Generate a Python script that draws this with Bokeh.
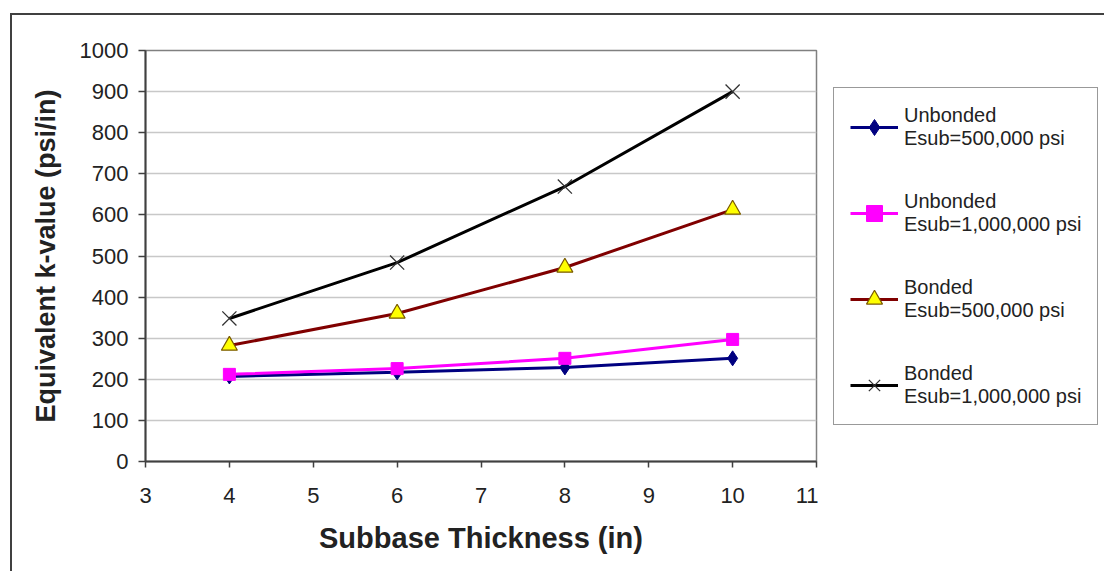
from bokeh.plotting import figure
from bokeh.layouts import row
from bokeh.models import Range1d, FixedTicker, Legend, LegendItem, InlineStyleSheet
from bokeh.embed import file_html
from bokeh.resources import INLINE

# ---- data ----
thickness = [4, 6, 8, 10]
unbonded_500k = [207, 217, 229, 251]
unbonded_1m = [212, 226, 251, 297]
bonded_500k = [282, 360, 472, 613]
bonded_1m = [348, 484, 669, 900]

x_ticks = [3, 4, 5, 6, 7, 8, 9, 10, 11]
y_ticks = [0, 100, 200, 300, 400, 500, 600, 700, 800, 900, 1000]

labels = [
    "Unbonded\nEsub=500,000 psi",
    "Unbonded\nEsub=1,000,000 psi",
    "Bonded\nEsub=500,000 psi",
    "Bonded\nEsub=1,000,000 psi",
]

FONT = "Liberation Sans"

styles = [
    dict(line_color="#000080", marker="diamond", size=15,
         fill_color="#000080", mline="#000080", mwidth=1.0),
    dict(line_color="#ff00ff", marker="square", size=12,
         fill_color="#ff00ff", mline="#ff00ff", mwidth=1.0),
    dict(line_color="#800000", marker="triangle", size=16,
         fill_color="#ffff00", mline="#7a5a00", mwidth=1.2),
    dict(line_color="#000000", marker="x", size=20,
         fill_color=None, mline="#333333", mwidth=1.3),
]
series = [unbonded_500k, unbonded_1m, bonded_500k, bonded_1m]

BORDER_TOP, BORDER_BOTTOM = 50, 110

# ---- main chart ----
p = figure(width=818, height=571, output_backend="svg", toolbar_location=None,
           x_range=Range1d(3, 11), y_range=Range1d(0, 1000),
           min_border_left=145, min_border_right=2,
           min_border_top=BORDER_TOP, min_border_bottom=BORDER_BOTTOM,
           background_fill_color="white", border_fill_color="white")

p.outline_line_color = "#808080"
p.outline_line_width = 1.5

p.xgrid.grid_line_color = None
p.ygrid.grid_line_color = "#c8c8c8"
p.ygrid.grid_line_width = 1.5

p.xaxis.ticker = FixedTicker(ticks=x_ticks)
p.yaxis.ticker = FixedTicker(ticks=y_ticks)

for ax in (p.xaxis[0], p.yaxis[0]):
    ax.axis_line_color = "#404040"
    ax.axis_line_width = 2
    ax.major_tick_line_color = "#404040"
    ax.major_tick_line_width = 1.5
    ax.major_tick_in = 0
    ax.minor_tick_line_color = None
    ax.major_label_text_font = FONT
    ax.major_label_text_font_size = "22px"
    ax.major_label_text_color = "#222222"
    ax.axis_label_text_font = FONT
    ax.axis_label_text_font_style = "bold"
    ax.axis_label_text_color = "#222222"

p.xaxis.major_tick_out = 6
p.xaxis.major_label_standoff = 20
p.xaxis.axis_label = "Subbase Thickness (in)"
p.xaxis.axis_label_text_font_size = "29px"
p.xaxis.axis_label_standoff = 16

p.yaxis.major_tick_out = 7
p.yaxis.major_label_standoff = 10
p.yaxis.axis_label = "Equivalent k-value (psi/in)"
p.yaxis.axis_label_text_font_size = "27px"
p.yaxis.axis_label_standoff = 16

for vals, st in zip(series, styles):
    p.line(thickness, vals, line_color=st["line_color"], line_width=3)
    p.scatter(thickness, vals, marker=st["marker"], size=st["size"],
              fill_color=st["fill_color"], line_color=st["mline"],
              line_width=st["mwidth"])

# ---- legend panel (separate canvas so the legend is not clipped) ----
# the proxy renderers use the same data but fall outside this canvas's
# ranges, so only the legend shows.
q = figure(width=286, height=571, output_backend="svg", toolbar_location=None,
           x_range=Range1d(-100, -99), y_range=Range1d(-100, -99),
           x_axis_location=None, y_axis_location=None,
           min_border_left=0, min_border_right=0,
           min_border_top=BORDER_TOP, min_border_bottom=BORDER_BOTTOM,
           background_fill_color="white", border_fill_color="white")
q.outline_line_color = None
q.grid.grid_line_color = None

items = []
for lab, vals, st in zip(labels, series, styles):
    lr = q.line(thickness, vals, line_color=st["line_color"], line_width=3)
    sr = q.scatter(thickness, vals, marker=st["marker"], size=st["size"],
                   fill_color=st["fill_color"], line_color=st["mline"],
                   line_width=st["mwidth"])
    items.append(LegendItem(label=lab, renderers=[lr, sr]))

legend = Legend(items=items, location="left")
legend.label_text_font = FONT
legend.label_text_font_size = "20px"
legend.label_text_color = "#222222"
legend.label_text_line_height = 1.3
legend.glyph_width = 48
legend.glyph_height = 40
legend.label_standoff = 6
legend.spacing = 40
legend.padding = 16
legend.margin = 15
legend.border_line_color = "#333333"
legend.border_line_width = 1.5
legend.background_fill_color = "white"
legend.background_fill_alpha = 1
q.add_layout(legend, "center")

layout = row(p, q, spacing=0)

# outer chart border (CSS overlay on the layout's host element)
layout.stylesheets = [InlineStyleSheet(css="""
:host { position: relative; }
:host::after {
  content: "";
  position: absolute;
  left: 10px; top: 13px;
  width: 1200px; height: 700px;
  border: 2.5px solid #404040;
  pointer-events: none;
  box-sizing: border-box;
  z-index: 10;
}
""")]

open("out.html", "w").write(file_html(layout, INLINE))
